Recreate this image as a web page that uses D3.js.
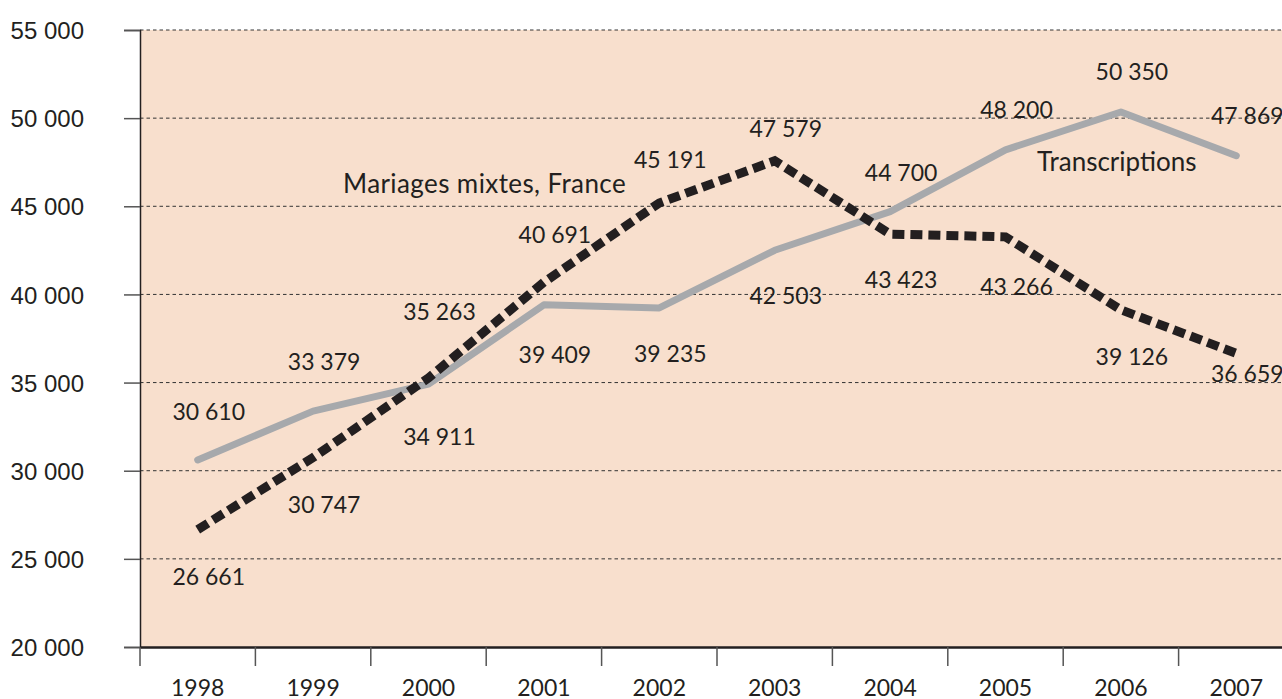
<!DOCTYPE html>
<html>
<head>
<meta charset="utf-8">
<script src="https://cdn.jsdelivr.net/npm/d3@7/dist/d3.min.js"></script>
<style>
  html, body { margin: 0; padding: 0; background: #ffffff; overflow: hidden; }
  svg { display: block; }
</style>
</head>
<body>
<div id="chart"></div>
<script>
// ---- data ----
const years = ["1998", "1999", "2000", "2001", "2002", "2003", "2004", "2005", "2006", "2007"];
const transcriptions = [30610, 33379, 34911, 39409, 39235, 42503, 44700, 48200, 50350, 47869];
const mariagesMixtes = [26661, 30747, 35263, 40691, 45191, 47579, 43423, 43266, 39126, 36659];
const yTicks = [20000, 25000, 30000, 35000, 40000, 45000, 50000, 55000];
const seriesNames = ["Transcriptions", "Mariages mixtes, France"];

// ---- layout (label offsets, px) ----
const grayLabelDy = [-40, -41, 61, 58, 54, 54, -31, -32, -32, -32];
const blackLabelDy = [55, 55, -58, -39, -35, -24, 54, 58, 55, 29];

const W = 1282, H = 699;
const mLeft = 140, mBottom = 647, mTop = 30;
const bandW = 115.4;

const fmt = v => d3.format(",")(v).replace(/,/g, " ");

const svg = d3.select("#chart").append("svg").attr("width", W).attr("height", H);

const x = d3.scaleBand().domain(years).range([mLeft, mLeft + bandW * years.length]);
const y = d3.scaleLinear().domain([20000, 55000]).range([mBottom, mTop]);

// background
svg.append("rect")
  .attr("x", mLeft).attr("y", mTop)
  .attr("width", bandW * years.length).attr("height", mBottom - mTop)
  .attr("fill", "#f8dfcd");

// gridlines
svg.append("g").selectAll("line")
  .data(yTicks.filter(t => t > 20000))
  .join("line")
  .attr("x1", mLeft).attr("x2", W)
  .attr("y1", d => y(d)).attr("y2", d => y(d))
  .attr("stroke", "#333").attr("stroke-width", 1)
  .attr("stroke-dasharray", "3.5,3");

// y axis
const yAxis = d3.axisLeft(y).tickValues(yTicks).tickSize(16).tickPadding(40).tickFormat(fmt);
const gy = svg.append("g").attr("transform", `translate(${mLeft},0)`).call(yAxis);
gy.select(".domain").attr("stroke", "#231f20").attr("stroke-width", 1.5);
gy.selectAll(".tick line").attr("stroke", "#555").attr("stroke-width", 1.5);
gy.selectAll("text")
  .attr("font-family", "'Liberation Sans', Arial, sans-serif")
  .attr("font-size", 24).attr("fill", "#231f20").attr("dy", "0.36em");

// x axis
const xAxis = d3.axisBottom(x).tickSize(0).tickPadding(0);
const gx = svg.append("g").attr("transform", `translate(0,${mBottom})`).call(xAxis);
gx.select(".domain").attr("stroke", "#231f20").attr("stroke-width", 2.5);
gx.selectAll(".tick text")
  .attr("font-family", "Lato, sans-serif").attr("font-size", 23)
  .attr("fill", "#231f20").attr("y", 49).attr("dy", 0);
// x ticks at band boundaries
svg.append("g").selectAll("line")
  .data(years)
  .join("line")
  .attr("x1", d => x(d)).attr("x2", d => x(d))
  .attr("y1", mBottom).attr("y2", mBottom + 19)
  .attr("stroke", "#555").attr("stroke-width", 1.5);

const cx = (d, i) => x(years[i]) + x.bandwidth() / 2;

// lines
const lineGen = d3.line().x((d, i) => cx(d, i)).y(d => y(d));
svg.append("path")
  .datum(transcriptions)
  .attr("d", lineGen)
  .attr("fill", "none").attr("stroke", "#a7a9ac").attr("stroke-width", 7)
  .attr("stroke-linecap", "round").attr("stroke-linejoin", "round");

svg.append("path")
  .datum(mariagesMixtes)
  .attr("d", lineGen)
  .attr("fill", "none").attr("stroke", "#231f20").attr("stroke-width", 9)
  .attr("stroke-dasharray", "12,6").attr("stroke-linejoin", "miter");

// value labels
const labelFont = "Lato, sans-serif";
svg.append("g").selectAll("text")
  .data(transcriptions)
  .join("text")
  .attr("x", (d, i) => cx(d, i) + 11)
  .attr("y", (d, i) => y(d) + grayLabelDy[i])
  .attr("text-anchor", "middle")
  .attr("font-family", labelFont).attr("font-size", 23).attr("fill", "#231f20")
  .text(fmt);

svg.append("g").selectAll("text")
  .data(mariagesMixtes)
  .join("text")
  .attr("x", (d, i) => cx(d, i) + 11)
  .attr("y", (d, i) => y(d) + blackLabelDy[i])
  .attr("text-anchor", "middle")
  .attr("font-family", labelFont).attr("font-size", 23).attr("fill", "#231f20")
  .text(fmt);

// series names
svg.append("text")
  .attr("x", 1037).attr("y", 171)
  .attr("font-family", labelFont).attr("font-size", 26).attr("fill", "#231f20")
  .text(seriesNames[0]);
svg.append("text")
  .attr("x", 343).attr("y", 193)
  .attr("font-family", labelFont).attr("font-size", 26).attr("letter-spacing", 0.4)
  .attr("fill", "#231f20")
  .text(seriesNames[1]);
</script>
</body>
</html>
